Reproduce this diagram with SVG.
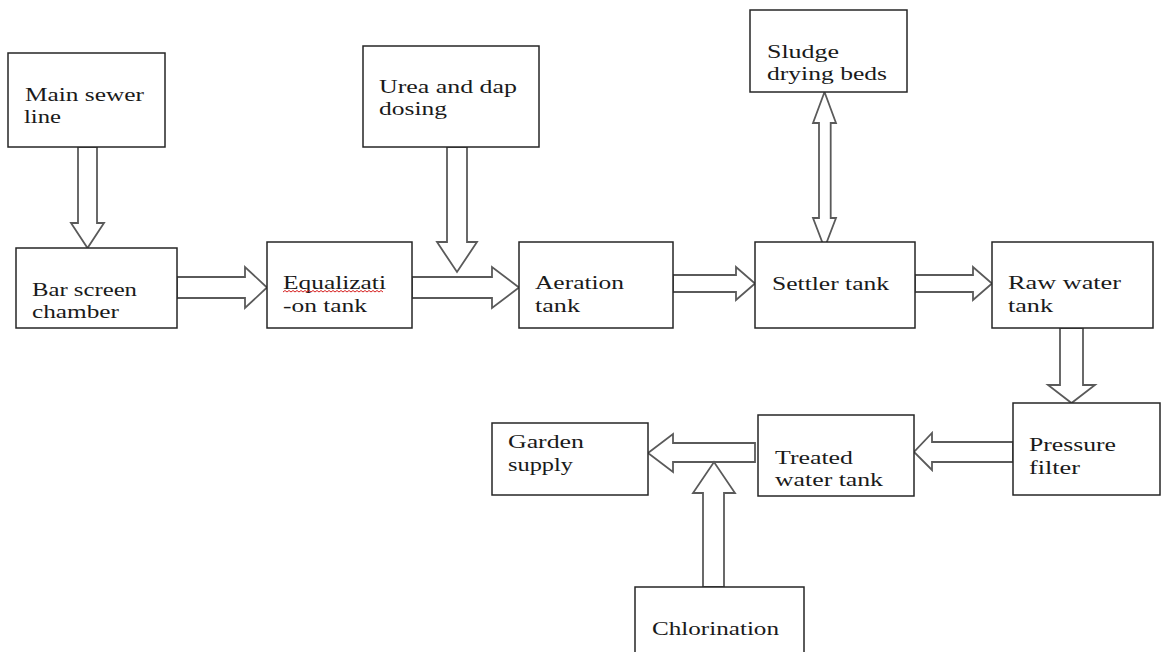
<svg xmlns="http://www.w3.org/2000/svg" width="1162" height="652" viewBox="0 0 1162 652">
<style>
.box{fill:#fff;stroke:#262626;stroke-width:1.5}
.arr{fill:#fff;stroke:#5a5a5a;stroke-width:1.8;stroke-linejoin:miter}
text{font-family:"Liberation Serif","Times New Roman",serif;font-size:19px;fill:#1a1a1a}
.sq{fill:none;stroke:#d62020;stroke-width:1}
</style>
<rect width="1162" height="652" fill="#fff"/>
<g id="connectors">
<polygon class="arr" points="78,147 97,147 97,223 104,223 87.5,248 71,223 78,223"/>
<polygon class="arr" points="177,277 245,277 245,267 267,287.5 245,308 245,298 177,298"/>
<polygon class="arr" points="447,147 467,147 467,242 477,242 457,272 437,242 447,242"/>
<polygon class="arr" points="412,277 492,277 492,267 519,287.5 492,308 492,298 412,298"/>
<polygon class="arr" points="673,275 736,275 736,267 755,283.5 736,300 736,292 673,292"/>
<polygon class="arr" points="915,275 973,275 973,267 992,283.5 973,300 973,292 915,292"/>
<polygon class="arr" points="824.5,92 836,123 830.7,123 830.7,218 836,218 824.5,248 813,218 819,218 819,123 813,123"/>
<polygon class="arr" points="1060,328 1083,328 1083,385 1095,385 1071.5,403 1048,385 1060,385"/>
<polygon class="arr" points="1013,442 932,442 932,433 914,452 932,470 932,462 1013,462"/>
<polygon class="arr" points="755,443 673,443 673,434 648,453 673,472 673,462 755,462"/>
<polygon class="arr" points="703,587 724,587 724,493 735,493 714,462 693,493 703,493"/>
</g>
<g id="main-sewer">
<rect class="box" x="8" y="53" width="157" height="94"/>
<text x="25" y="101" textLength="119" lengthAdjust="spacingAndGlyphs">Main sewer</text>
<text x="24" y="123" textLength="37" lengthAdjust="spacingAndGlyphs">line</text>
</g>
<g id="bar-screen">
<rect class="box" x="16" y="248" width="161" height="80"/>
<text x="32" y="296" textLength="105" lengthAdjust="spacingAndGlyphs">Bar screen</text>
<text x="32" y="318" textLength="87" lengthAdjust="spacingAndGlyphs">chamber</text>
</g>
<g id="equalization">
<rect class="box" x="267" y="242" width="145" height="86"/>
<text x="283" y="289" textLength="103" lengthAdjust="spacingAndGlyphs">Equalizati</text>
<text x="283" y="312" textLength="84" lengthAdjust="spacingAndGlyphs">-on tank</text>
<path class="sq" d="M283,292 l2,-1.5 l2,1.5 l2,-1.5 l2,1.5 l2,-1.5 l2,1.5 l2,-1.5 l2,1.5 l2,-1.5 l2,1.5 l2,-1.5 l2,1.5 l2,-1.5 l2,1.5 l2,-1.5 l2,1.5 l2,-1.5 l2,1.5 l2,-1.5 l2,1.5 l2,-1.5 l2,1.5 l2,-1.5 l2,1.5 l2,-1.5 l2,1.5 l2,-1.5 l2,1.5 l2,-1.5 l2,1.5 l2,-1.5 l2,1.5 l2,-1.5 l2,1.5 l2,-1.5 l2,1.5 l2,-1.5 l2,1.5 l2,-1.5 l2,1.5 l2,-1.5 l2,1.5 l2,-1.5 l2,1.5 l2,-1.5 l2,1.5 l2,-1.5 l2,1.5 l2,-1.5 l2,1.5"/>
</g>
<g id="urea-dap">
<rect class="box" x="363" y="46" width="176" height="101"/>
<text x="379" y="93" textLength="138" lengthAdjust="spacingAndGlyphs">Urea and dap</text>
<text x="379" y="115" textLength="68" lengthAdjust="spacingAndGlyphs">dosing</text>
</g>
<g id="aeration">
<rect class="box" x="519" y="242" width="154" height="86"/>
<text x="535" y="289" textLength="89" lengthAdjust="spacingAndGlyphs">Aeration</text>
<text x="535" y="312" textLength="45" lengthAdjust="spacingAndGlyphs">tank</text>
</g>
<g id="sludge">
<rect class="box" x="750" y="10" width="157" height="82"/>
<text x="767" y="58" textLength="72" lengthAdjust="spacingAndGlyphs">Sludge</text>
<text x="767" y="80" textLength="120" lengthAdjust="spacingAndGlyphs">drying beds</text>
</g>
<g id="settler">
<rect class="box" x="755" y="242" width="160" height="86"/>
<text x="772" y="290" textLength="117" lengthAdjust="spacingAndGlyphs">Settler tank</text>
</g>
<g id="raw-water">
<rect class="box" x="992" y="242" width="161" height="86"/>
<text x="1008" y="289" textLength="113" lengthAdjust="spacingAndGlyphs">Raw water</text>
<text x="1008" y="312" textLength="45" lengthAdjust="spacingAndGlyphs">tank</text>
</g>
<g id="pressure-filter">
<rect class="box" x="1013" y="403" width="147" height="92"/>
<text x="1029" y="451" textLength="87" lengthAdjust="spacingAndGlyphs">Pressure</text>
<text x="1029" y="474" textLength="51" lengthAdjust="spacingAndGlyphs">filter</text>
</g>
<g id="treated-water">
<rect class="box" x="758" y="415" width="156" height="81"/>
<text x="775" y="464" textLength="78" lengthAdjust="spacingAndGlyphs">Treated</text>
<text x="775" y="486" textLength="108" lengthAdjust="spacingAndGlyphs">water tank</text>
</g>
<g id="garden-supply">
<rect class="box" x="492" y="423" width="156" height="72"/>
<text x="508" y="448" textLength="76" lengthAdjust="spacingAndGlyphs">Garden</text>
<text x="508" y="471" textLength="65" lengthAdjust="spacingAndGlyphs">supply</text>
</g>
<g id="chlorination">
<rect class="box" x="635" y="587" width="169" height="80"/>
<text x="652" y="635" textLength="127" lengthAdjust="spacingAndGlyphs">Chlorination</text>
</g>
</svg>
